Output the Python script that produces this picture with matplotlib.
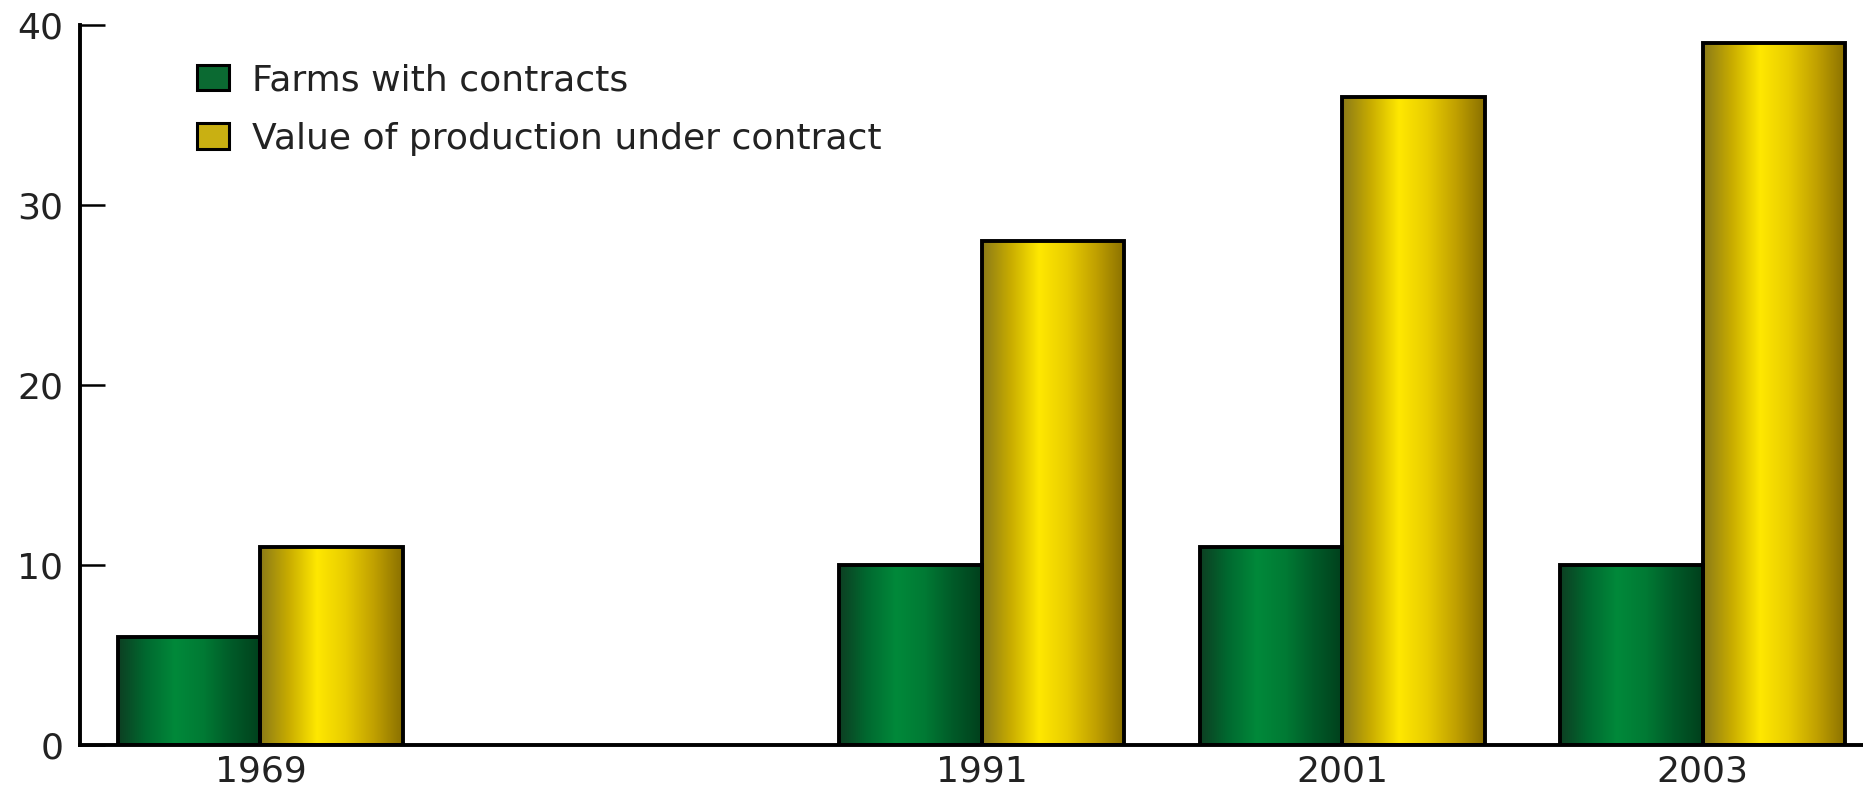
import numpy as np
import matplotlib
matplotlib.use("Agg")
import matplotlib.pyplot as plt
from matplotlib.colors import LinearSegmentedColormap
from matplotlib.patches import Patch

years = ["1969", "1991", "2001", "2003"]
slots = [0, 2, 3, 4]          # 1969 sits two slots away from 1991
farms = [6, 10, 11, 10]
value = [11, 28, 36, 39]
series_names = ["Farms with contracts", "Value of production under contract"]

plt.rcParams["font.family"] = ["DejaVu Sans"]

# cylinder-like shading across each bar
green_cmap = LinearSegmentedColormap.from_list(
    "green_tube", ["#0d3f22", "#006a30", "#00893a", "#007a34", "#005a28", "#00401c"])
yellow_cmap = LinearSegmentedColormap.from_list(
    "yellow_tube", ["#8a7a18", "#c8ac00", "#ffe800", "#e8cc00", "#c0a000", "#8a7000"])

fig = plt.figure(figsize=(18.63, 7.88), dpi=100)
ax = fig.add_axes([0.043, 0.0546, 0.962, 0.9137])

w = 0.395
x = np.array(slots, dtype=float)
grad = np.linspace(0, 1, 256).reshape(1, -1)

for xs, vals, cmap in [(x - w / 2, farms, green_cmap), (x + w / 2, value, yellow_cmap)]:
    bars = ax.bar(xs, vals, width=w, facecolor="none", edgecolor="black",
                  linewidth=2.8, zorder=3)
    for b in bars:
        x0, y0 = b.get_x(), b.get_y()
        ax.imshow(grad, cmap=cmap, aspect="auto", zorder=2,
                  extent=(x0, x0 + b.get_width(), y0, y0 + b.get_height()))

ax.set_xlim(-0.5, 4.47)
ax.set_ylim(0, 40)

for side in ["top", "right"]:
    ax.spines[side].set_visible(False)
for side in ["left", "bottom"]:
    ax.spines[side].set_linewidth(2.8)
    ax.spines[side].set_zorder(4)

ax.set_yticks([0, 10, 20, 30, 40])
ax.tick_params(axis="y", direction="in", length=18, width=1.8, labelsize=26, pad=12)
ax.set_xticks(x)
ax.set_xticklabels(years)
ax.tick_params(axis="x", length=0, labelsize=26, pad=7)
for lbl in ax.get_xticklabels() + ax.get_yticklabels():
    lbl.set_color("#222222")

handles = [Patch(facecolor="#0b6a32", edgecolor="black", linewidth=2.2),
           Patch(facecolor="#c9b012", edgecolor="black", linewidth=2.2)]
ax.legend(handles, series_names, loc="upper left", bbox_to_anchor=(0.047, 0.992),
          frameon=False, fontsize=26, handlelength=0.9, handleheight=0.72,
          handletextpad=0.62, labelspacing=0.68, labelcolor="#222222")

fig.savefig("out.png", dpi=100)
